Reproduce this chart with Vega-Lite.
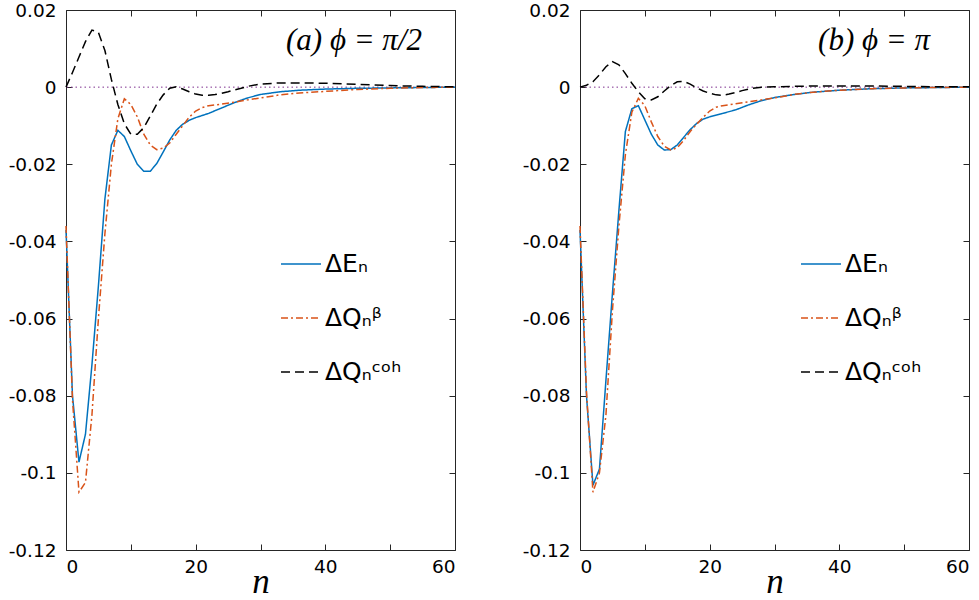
{
"$schema": "https://vega.github.io/schema/vega-lite/v6.json",
"padding": {"left": 0, "top": 1, "right": 5, "bottom": 0},
"background": "white",
"config": {
  "font": "DejaVu Sans",
  "view": {"stroke": null},
  "axis": {"labelFont": "DejaVu Sans", "labelFontSize": 18.5, "labelColor": "#000", "domainColor": "#262626", "tickColor": "#262626", "grid": false, "tickSize": -6, "domainWidth": 1, "tickWidth": 1}
},
"datasets": {"d": [
{"p":"a","s":"E","n":0,"v":-0.037},{"p":"a","s":"E","n":1,"v":-0.080},{"p":"a","s":"E","n":2,"v":-0.0972},{"p":"a","s":"E","n":3,"v":-0.090},{"p":"a","s":"E","n":4,"v":-0.072},{"p":"a","s":"E","n":5,"v":-0.0515},{"p":"a","s":"E","n":6,"v":-0.029},{"p":"a","s":"E","n":7,"v":-0.015},{"p":"a","s":"E","n":8,"v":-0.0112},{"p":"a","s":"E","n":9,"v":-0.0128},{"p":"a","s":"E","n":10,"v":-0.0165},{"p":"a","s":"E","n":11,"v":-0.0200},{"p":"a","s":"E","n":12,"v":-0.0218},{"p":"a","s":"E","n":13,"v":-0.0218},{"p":"a","s":"E","n":14,"v":-0.0198},{"p":"a","s":"E","n":15,"v":-0.0168},{"p":"a","s":"E","n":16,"v":-0.0137},{"p":"a","s":"E","n":17,"v":-0.0112},{"p":"a","s":"E","n":18,"v":-0.0096},{"p":"a","s":"E","n":19,"v":-0.0086},{"p":"a","s":"E","n":20,"v":-0.0079},{"p":"a","s":"E","n":22,"v":-0.0068},{"p":"a","s":"E","n":24,"v":-0.0054},{"p":"a","s":"E","n":26,"v":-0.0040},{"p":"a","s":"E","n":28,"v":-0.0028},{"p":"a","s":"E","n":30,"v":-0.0019},{"p":"a","s":"E","n":33,"v":-0.0012},{"p":"a","s":"E","n":36,"v":-0.0008},{"p":"a","s":"E","n":40,"v":-0.0005},{"p":"a","s":"E","n":45,"v":-0.0003},{"p":"a","s":"E","n":50,"v":-0.0002},{"p":"a","s":"E","n":55,"v":-0.0001},{"p":"a","s":"E","n":60,"v":0},
{"p":"a","s":"B","n":0,"v":-0.036},{"p":"a","s":"B","n":1,"v":-0.081},{"p":"a","s":"B","n":2,"v":-0.105},{"p":"a","s":"B","n":3,"v":-0.1025},{"p":"a","s":"B","n":4,"v":-0.085},{"p":"a","s":"B","n":5,"v":-0.060},{"p":"a","s":"B","n":6,"v":-0.038},{"p":"a","s":"B","n":7,"v":-0.020},{"p":"a","s":"B","n":8,"v":-0.0082},{"p":"a","s":"B","n":9,"v":-0.003},{"p":"a","s":"B","n":10,"v":-0.0045},{"p":"a","s":"B","n":11,"v":-0.0077},{"p":"a","s":"B","n":12,"v":-0.0122},{"p":"a","s":"B","n":13,"v":-0.0150},{"p":"a","s":"B","n":14,"v":-0.0162},{"p":"a","s":"B","n":15,"v":-0.0158},{"p":"a","s":"B","n":16,"v":-0.0145},{"p":"a","s":"B","n":17,"v":-0.0122},{"p":"a","s":"B","n":18,"v":-0.0100},{"p":"a","s":"B","n":19,"v":-0.0078},{"p":"a","s":"B","n":20,"v":-0.0062},{"p":"a","s":"B","n":21,"v":-0.0053},{"p":"a","s":"B","n":22,"v":-0.0048},{"p":"a","s":"B","n":24,"v":-0.0044},{"p":"a","s":"B","n":26,"v":-0.0039},{"p":"a","s":"B","n":28,"v":-0.0033},{"p":"a","s":"B","n":30,"v":-0.0028},{"p":"a","s":"B","n":33,"v":-0.0020},{"p":"a","s":"B","n":36,"v":-0.0015},{"p":"a","s":"B","n":40,"v":-0.0011},{"p":"a","s":"B","n":45,"v":-0.0006},{"p":"a","s":"B","n":50,"v":-0.0003},{"p":"a","s":"B","n":55,"v":-0.0001},{"p":"a","s":"B","n":60,"v":0},
{"p":"a","s":"C","n":0,"v":0},{"p":"a","s":"C","n":1,"v":0.0038},{"p":"a","s":"C","n":2,"v":0.0078},{"p":"a","s":"C","n":3,"v":0.0118},{"p":"a","s":"C","n":4,"v":0.0148},{"p":"a","s":"C","n":5,"v":0.0142},{"p":"a","s":"C","n":6,"v":0.0095},{"p":"a","s":"C","n":7,"v":0.002},{"p":"a","s":"C","n":8,"v":-0.0045},{"p":"a","s":"C","n":9,"v":-0.0095},{"p":"a","s":"C","n":10,"v":-0.0122},{"p":"a","s":"C","n":11,"v":-0.0122},{"p":"a","s":"C","n":12,"v":-0.0105},{"p":"a","s":"C","n":13,"v":-0.0075},{"p":"a","s":"C","n":14,"v":-0.0044},{"p":"a","s":"C","n":15,"v":-0.002},{"p":"a","s":"C","n":16,"v":-0.0003},{"p":"a","s":"C","n":17,"v":0.0001},{"p":"a","s":"C","n":18,"v":-0.0005},{"p":"a","s":"C","n":19,"v":-0.0012},{"p":"a","s":"C","n":20,"v":-0.0018},{"p":"a","s":"C","n":21,"v":-0.0021},{"p":"a","s":"C","n":22,"v":-0.0021},{"p":"a","s":"C","n":23,"v":-0.0019},{"p":"a","s":"C","n":24,"v":-0.0016},{"p":"a","s":"C","n":25,"v":-0.0012},{"p":"a","s":"C","n":26,"v":-0.0007},{"p":"a","s":"C","n":27,"v":-0.0003},{"p":"a","s":"C","n":28,"v":0.0002},{"p":"a","s":"C","n":30,"v":0.0008},{"p":"a","s":"C","n":33,"v":0.0011},{"p":"a","s":"C","n":36,"v":0.0011},{"p":"a","s":"C","n":40,"v":0.0010},{"p":"a","s":"C","n":45,"v":0.0007},{"p":"a","s":"C","n":50,"v":0.0004},{"p":"a","s":"C","n":55,"v":0.0002},{"p":"a","s":"C","n":60,"v":0.0001},
{"p":"b","s":"E","n":0,"v":-0.037},{"p":"b","s":"E","n":1,"v":-0.080},{"p":"b","s":"E","n":2,"v":-0.1032},{"p":"b","s":"E","n":3,"v":-0.099},{"p":"b","s":"E","n":4,"v":-0.076},{"p":"b","s":"E","n":5,"v":-0.0535},{"p":"b","s":"E","n":6,"v":-0.032},{"p":"b","s":"E","n":7,"v":-0.0115},{"p":"b","s":"E","n":8,"v":-0.0056},{"p":"b","s":"E","n":9,"v":-0.0048},{"p":"b","s":"E","n":10,"v":-0.0085},{"p":"b","s":"E","n":11,"v":-0.0122},{"p":"b","s":"E","n":12,"v":-0.0150},{"p":"b","s":"E","n":13,"v":-0.0163},{"p":"b","s":"E","n":14,"v":-0.0162},{"p":"b","s":"E","n":15,"v":-0.0150},{"p":"b","s":"E","n":16,"v":-0.0130},{"p":"b","s":"E","n":17,"v":-0.0110},{"p":"b","s":"E","n":18,"v":-0.0094},{"p":"b","s":"E","n":19,"v":-0.0083},{"p":"b","s":"E","n":20,"v":-0.0077},{"p":"b","s":"E","n":22,"v":-0.0068},{"p":"b","s":"E","n":24,"v":-0.0059},{"p":"b","s":"E","n":26,"v":-0.0046},{"p":"b","s":"E","n":28,"v":-0.0035},{"p":"b","s":"E","n":30,"v":-0.0027},{"p":"b","s":"E","n":33,"v":-0.0019},{"p":"b","s":"E","n":36,"v":-0.0013},{"p":"b","s":"E","n":40,"v":-0.0008},{"p":"b","s":"E","n":45,"v":-0.0004},{"p":"b","s":"E","n":50,"v":-0.0002},{"p":"b","s":"E","n":55,"v":-0.0001},{"p":"b","s":"E","n":60,"v":0},
{"p":"b","s":"B","n":0,"v":-0.036},{"p":"b","s":"B","n":1,"v":-0.079},{"p":"b","s":"B","n":2,"v":-0.105},{"p":"b","s":"B","n":3,"v":-0.100},{"p":"b","s":"B","n":4,"v":-0.085},{"p":"b","s":"B","n":5,"v":-0.058},{"p":"b","s":"B","n":6,"v":-0.036},{"p":"b","s":"B","n":7,"v":-0.0175},{"p":"b","s":"B","n":8,"v":-0.0065},{"p":"b","s":"B","n":9,"v":-0.0029},{"p":"b","s":"B","n":10,"v":-0.0048},{"p":"b","s":"B","n":11,"v":-0.0090},{"p":"b","s":"B","n":12,"v":-0.0128},{"p":"b","s":"B","n":13,"v":-0.0153},{"p":"b","s":"B","n":14,"v":-0.0163},{"p":"b","s":"B","n":15,"v":-0.0157},{"p":"b","s":"B","n":16,"v":-0.0138},{"p":"b","s":"B","n":17,"v":-0.0115},{"p":"b","s":"B","n":18,"v":-0.0096},{"p":"b","s":"B","n":19,"v":-0.0078},{"p":"b","s":"B","n":20,"v":-0.0062},{"p":"b","s":"B","n":21,"v":-0.0052},{"p":"b","s":"B","n":22,"v":-0.0048},{"p":"b","s":"B","n":24,"v":-0.0043},{"p":"b","s":"B","n":26,"v":-0.0038},{"p":"b","s":"B","n":28,"v":-0.0033},{"p":"b","s":"B","n":30,"v":-0.0028},{"p":"b","s":"B","n":33,"v":-0.0019},{"p":"b","s":"B","n":36,"v":-0.0013},{"p":"b","s":"B","n":40,"v":-0.0008},{"p":"b","s":"B","n":45,"v":-0.0004},{"p":"b","s":"B","n":50,"v":-0.0002},{"p":"b","s":"B","n":55,"v":-0.0001},{"p":"b","s":"B","n":60,"v":0},
{"p":"b","s":"C","n":0,"v":0},{"p":"b","s":"C","n":1,"v":0.0005},{"p":"b","s":"C","n":2,"v":0.0014},{"p":"b","s":"C","n":3,"v":0.0032},{"p":"b","s":"C","n":4,"v":0.0053},{"p":"b","s":"C","n":5,"v":0.0066},{"p":"b","s":"C","n":6,"v":0.0058},{"p":"b","s":"C","n":7,"v":0.0035},{"p":"b","s":"C","n":8,"v":0.001},{"p":"b","s":"C","n":9,"v":-0.0012},{"p":"b","s":"C","n":10,"v":-0.003},{"p":"b","s":"C","n":11,"v":-0.0033},{"p":"b","s":"C","n":12,"v":-0.0025},{"p":"b","s":"C","n":13,"v":-0.001},{"p":"b","s":"C","n":14,"v":0.0004},{"p":"b","s":"C","n":15,"v":0.0014},{"p":"b","s":"C","n":16,"v":0.0015},{"p":"b","s":"C","n":17,"v":0.0008},{"p":"b","s":"C","n":18,"v":-0.0002},{"p":"b","s":"C","n":19,"v":-0.0010},{"p":"b","s":"C","n":20,"v":-0.0016},{"p":"b","s":"C","n":21,"v":-0.0020},{"p":"b","s":"C","n":22,"v":-0.0021},{"p":"b","s":"C","n":23,"v":-0.0018},{"p":"b","s":"C","n":24,"v":-0.0014},{"p":"b","s":"C","n":25,"v":-0.0009},{"p":"b","s":"C","n":26,"v":-0.0005},{"p":"b","s":"C","n":27,"v":-0.0002},{"p":"b","s":"C","n":28,"v":0.0},{"p":"b","s":"C","n":30,"v":0.0001},{"p":"b","s":"C","n":33,"v":0.0002},{"p":"b","s":"C","n":36,"v":0.0003},{"p":"b","s":"C","n":40,"v":0.0003},{"p":"b","s":"C","n":45,"v":0.0003},{"p":"b","s":"C","n":50,"v":0.0002},{"p":"b","s":"C","n":55,"v":0.0001},{"p":"b","s":"C","n":60,"v":0.0001}
]},
"spacing": 56,
"resolve": {"scale": {"color": "independent", "strokeDash": "independent"}, "legend": {"color": "independent", "strokeDash": "independent"}},
"hconcat": [
{
  "width": 389, "height": 540,
  "title": {"text": "(a)  ϕ  =  π/2", "anchor": "end", "frame": "group", "offset": -80, "dx": -33, "font": "Liberation Serif", "fontStyle": "italic", "fontWeight": "normal", "fontSize": 31, "baseline": "alphabetic", "color": "#000"},
  "layer": [
    {"data": {"values": [{"zero": 0}]}, "mark": {"type": "rule", "color": "#7E2F8E", "strokeWidth": 1, "strokeDash": [1.5, 3]}, "encoding": {"y": {"field": "zero", "type": "quantitative", "scale": {"domain": [-0.12, 0.02], "nice": false}, "axis": null}}},
    {"data": {"name": "d"}, "transform": [{"filter": "datum.p === 'a'"}],
     "mark": {"type": "line", "strokeWidth": 1.5},
     "encoding": {
       "x": {"field": "n", "type": "quantitative", "scale": {"domain": [0, 60], "nice": false}, "axis": {"orient": "bottom", "values": [0,10,20,30,40,50,60], "labelExpr": "datum.value % 20 === 0 ? datum.label : ''", "labelPadding": 13, "title": "n", "titleFont": "Liberation Serif", "titleFontStyle": "italic", "titleFontWeight": "normal", "titleFontSize": 35, "titleColor": "#000", "titleY": 42, "titleBaseline": "alphabetic"}},
       "y": {"field": "v", "type": "quantitative", "scale": {"domain": [-0.12, 0.02], "nice": false}, "axis": {"orient": "left", "values": [0.02,0,-0.02,-0.04,-0.06,-0.08,-0.1,-0.12], "format": ".2~f", "labelExpr": "replace(datum.label, '\u2212', '-')", "labelPadding": 16, "title": null, "minExtent": 66, "maxExtent": 66}},
       "color": {"field": "s", "type": "nominal", "scale": {"domain": ["E","B","C"], "range": ["#0072BD","#D95319","#000000"]}, "legend": {"orient": "none", "legendX": 214, "legendY": 233, "title": null, "symbolType": "stroke", "symbolSize": 1600, "symbolStrokeWidth": 1.5, "labelFont": "DejaVu Sans", "labelFontSize": 25, "labelColor": "#000", "labelOffset": 3, "rowPadding": 20, "padding": 0, "labelExpr": "datum.label == 'E' ? 'ΔEₙ' : datum.label == 'B' ? 'ΔQₙᵝ' : 'ΔQₙᶜᵒʰ'"}},
       "strokeDash": {"field": "s", "type": "nominal", "scale": {"domain": ["E","B","C"], "range": [[1,0],[7,3,2,3],[9,5]]}, "legend": {"orient": "none", "legendX": 214, "legendY": 233, "title": null, "symbolType": "stroke", "symbolSize": 1600, "symbolStrokeWidth": 1.5, "labelFont": "DejaVu Sans", "labelFontSize": 25, "labelColor": "#000", "labelOffset": 3, "rowPadding": 20, "padding": 0, "labelExpr": "datum.label == 'E' ? 'ΔEₙ' : datum.label == 'B' ? 'ΔQₙᵝ' : 'ΔQₙᶜᵒʰ'"}}
     }},
    {"data": {"name": "d"}, "transform": [{"filter": "datum.p === 'a'"}],
     "mark": {"type": "line", "opacity": 0},
     "encoding": {
       "x": {"field": "n", "type": "quantitative", "scale": {"domain": [0, 60], "nice": false}, "axis": {"orient": "top", "values": [0,10,20,30,40,50,60], "labels": false, "title": null, "maxExtent": 0}},
       "y": {"field": "v", "type": "quantitative", "scale": {"domain": [-0.12, 0.02], "nice": false}, "axis": {"orient": "right", "values": [0.02,0,-0.02,-0.04,-0.06,-0.08,-0.1,-0.12], "labels": false, "title": null, "maxExtent": 0}},
       "detail": {"field": "s", "type": "nominal"}
     }}
  ],
  "resolve": {"axis": {"x": "independent", "y": "independent"}}
},
{
  "width": 389, "height": 540,
  "title": {"text": "(b)  ϕ  =  π", "anchor": "end", "frame": "group", "offset": -80, "dx": -39, "font": "Liberation Serif", "fontStyle": "italic", "fontWeight": "normal", "fontSize": 31, "baseline": "alphabetic", "color": "#000"},
  "layer": [
    {"data": {"values": [{"zero": 0}]}, "mark": {"type": "rule", "color": "#7E2F8E", "strokeWidth": 1, "strokeDash": [1.5, 3]}, "encoding": {"y": {"field": "zero", "type": "quantitative", "scale": {"domain": [-0.12, 0.02], "nice": false}, "axis": null}}},
    {"data": {"name": "d"}, "transform": [{"filter": "datum.p === 'b'"}],
     "mark": {"type": "line", "strokeWidth": 1.5},
     "encoding": {
       "x": {"field": "n", "type": "quantitative", "scale": {"domain": [0, 60], "nice": false}, "axis": {"orient": "bottom", "values": [0,10,20,30,40,50,60], "labelExpr": "datum.value % 20 === 0 ? datum.label : ''", "labelPadding": 13, "title": "n", "titleFont": "Liberation Serif", "titleFontStyle": "italic", "titleFontWeight": "normal", "titleFontSize": 35, "titleColor": "#000", "titleY": 42, "titleBaseline": "alphabetic"}},
       "y": {"field": "v", "type": "quantitative", "scale": {"domain": [-0.12, 0.02], "nice": false}, "axis": {"orient": "left", "values": [0.02,0,-0.02,-0.04,-0.06,-0.08,-0.1,-0.12], "format": ".2~f", "labelExpr": "replace(datum.label, '\u2212', '-')", "labelPadding": 16, "title": null, "minExtent": 66, "maxExtent": 66}},
       "color": {"field": "s", "type": "nominal", "scale": {"domain": ["E","B","C"], "range": ["#0072BD","#D95319","#000000"]}, "legend": {"orient": "none", "legendX": 220, "legendY": 233, "title": null, "symbolType": "stroke", "symbolSize": 1600, "symbolStrokeWidth": 1.5, "labelFont": "DejaVu Sans", "labelFontSize": 25, "labelColor": "#000", "labelOffset": 3, "rowPadding": 20, "padding": 0, "labelExpr": "datum.label == 'E' ? 'ΔEₙ' : datum.label == 'B' ? 'ΔQₙᵝ' : 'ΔQₙᶜᵒʰ'"}},
       "strokeDash": {"field": "s", "type": "nominal", "scale": {"domain": ["E","B","C"], "range": [[1,0],[7,3,2,3],[9,5]]}, "legend": {"orient": "none", "legendX": 220, "legendY": 233, "title": null, "symbolType": "stroke", "symbolSize": 1600, "symbolStrokeWidth": 1.5, "labelFont": "DejaVu Sans", "labelFontSize": 25, "labelColor": "#000", "labelOffset": 3, "rowPadding": 20, "padding": 0, "labelExpr": "datum.label == 'E' ? 'ΔEₙ' : datum.label == 'B' ? 'ΔQₙᵝ' : 'ΔQₙᶜᵒʰ'"}}
     }},
    {"data": {"name": "d"}, "transform": [{"filter": "datum.p === 'b'"}],
     "mark": {"type": "line", "opacity": 0},
     "encoding": {
       "x": {"field": "n", "type": "quantitative", "scale": {"domain": [0, 60], "nice": false}, "axis": {"orient": "top", "values": [0,10,20,30,40,50,60], "labels": false, "title": null, "maxExtent": 0}},
       "y": {"field": "v", "type": "quantitative", "scale": {"domain": [-0.12, 0.02], "nice": false}, "axis": {"orient": "right", "values": [0.02,0,-0.02,-0.04,-0.06,-0.08,-0.1,-0.12], "labels": false, "title": null, "maxExtent": 0}},
       "detail": {"field": "s", "type": "nominal"}
     }}
  ],
  "resolve": {"axis": {"x": "independent", "y": "independent"}}
}
]
}
